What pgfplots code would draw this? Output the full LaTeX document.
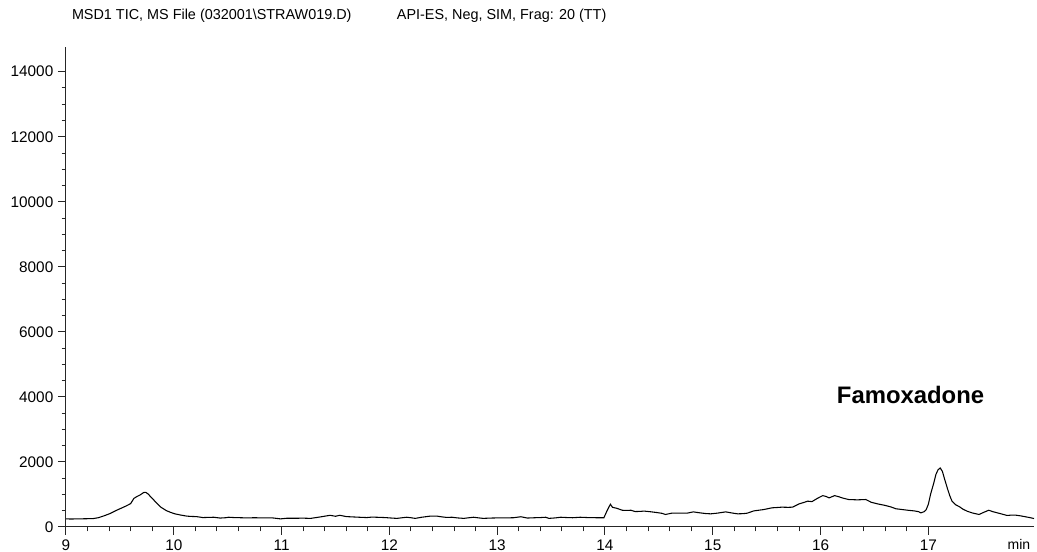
\documentclass[border=0pt]{standalone}
\usepackage{pgfplots}
\pgfplotsset{compat=1.18}
\usepackage{fontspec}
\setmainfont{Liberation Sans}

\begin{document}
\begin{tikzpicture}
% page frame; the axis box has its lower left corner at the origin
\path[use as bounding box] (-49.5pt,-18.75pt) rectangle (728.25pt,395.25pt);

\begin{axis}[
  at={(0pt,0pt)}, anchor=south west,
  scale only axis, width=726pt, height=360pt,
  xmin=9, xmax=17.98, ymin=0, ymax=14760,
  axis x line=bottom, axis y line=left,
  axis line style={-, line width=0.75pt, black!85},
  tick align=outside,
  xtick={9,...,17}, ytick={0,2000,...,14000},
  minor x tick num=4, minor y tick num=3,
  major tick length=6pt, minor tick length=3.2pt,
  tick style={line width=0.75pt, black!85},
  ticklabel style={font=\fontsize{11.5}{13}\selectfont},
  /pgf/number format/assume math mode=true,
  /pgf/number format/1000 sep={},
  scaled y ticks=false,
]
\addplot[black, line width=0.8pt, mark=none] coordinates {
(9.00,250) (9.05,245) (9.10,250) (9.15,252) (9.20,255) (9.25,258) (9.30,285)
(9.35,340) (9.41,415) (9.46,500) (9.52,590) (9.56,650) (9.60,720) (9.63,880)
(9.66,940) (9.69,990) (9.72,1060) (9.74,1065) (9.76,1020) (9.80,880) (9.84,740)
(9.88,610) (9.93,505) (9.97,450) (10.01,405) (10.06,370) (10.12,335) (10.16,325)
(10.21,320) (10.27,290) (10.32,295) (10.37,300) (10.43,275) (10.48,285) (10.51,300)
(10.56,290) (10.62,285) (10.68,280) (10.75,285) (10.82,280) (10.88,282) (10.92,278)
(10.99,250) (11.05,270) (11.12,268) (11.20,272) (11.27,265) (11.32,290) (11.36,310)
(11.45,360) (11.50,330) (11.54,360) (11.60,320) (11.66,310) (11.72,300) (11.79,290)
(11.84,305) (11.88,300) (11.96,290) (12.02,275) (12.07,265) (12.12,285) (12.16,300)
(12.20,285) (12.24,265) (12.30,300) (12.38,335) (12.44,335) (12.49,310) (12.53,295)
(12.58,300) (12.63,280) (12.69,265) (12.74,285) (12.78,300) (12.83,280) (12.87,265)
(12.94,275) (13.01,280) (13.08,280) (13.15,285) (13.22,315) (13.28,275) (13.35,285)
(13.40,290) (13.45,300) (13.48,265) (13.54,280) (13.59,300) (13.65,290) (13.70,285)
(13.77,300) (13.84,290) (13.92,285) (13.99,285) (14.02,505) (14.05,700) (14.07,605)
(14.11,575) (14.16,515) (14.20,510) (14.24,515) (14.28,475) (14.33,480) (14.36,490)
(14.42,470) (14.48,445) (14.53,420) (14.56,385) (14.62,425) (14.69,425) (14.76,425)
(14.82,465) (14.87,440) (14.93,415) (14.98,405) (15.04,425) (15.12,465) (15.18,430)
(15.23,405) (15.28,410) (15.32,425) (15.38,495) (15.47,535) (15.55,590) (15.60,600)
(15.64,610) (15.70,605) (15.74,610) (15.80,710) (15.85,760) (15.88,795) (15.92,780)
(15.97,880) (16.02,965) (16.05,940) (16.08,895) (16.13,965) (16.17,930) (16.20,895)
(16.26,845) (16.30,840) (16.34,835) (16.38,840) (16.42,845) (16.47,760) (16.53,710)
(16.59,670) (16.65,620) (16.70,560) (16.75,540) (16.81,515) (16.87,495) (16.91,470)
(16.93,435) (16.96,470) (16.98,535) (17.00,700) (17.02,1000) (17.05,1350) (17.07,1615)
(17.09,1760) (17.11,1815) (17.13,1710) (17.15,1480) (17.18,1150) (17.20,950) (17.22,790)
(17.25,690) (17.29,620) (17.32,550) (17.36,485) (17.41,430) (17.47,385) (17.52,460)
(17.56,515) (17.60,470) (17.64,435) (17.68,400) (17.73,355) (17.77,365) (17.81,365)
(17.86,340) (17.90,315) (17.94,290) (17.98,260)
};
\end{axis}

% header line
\node[anchor=base west, inner sep=0pt, font=\fontsize{10.8}{12}\selectfont]
  at (4.3pt,380.25pt) {MSD1 TIC, MS File (032001\textbackslash STRAW019.D)};
\node[anchor=base west, inner sep=0pt, font=\fontsize{10.8}{12}\selectfont]
  at (248pt,380.25pt) {API-ES, Neg, SIM, Frag: 20 (TT)};
% peak name
\node[anchor=base west, inner sep=0pt, font=\bfseries\fontsize{17.9}{20}\selectfont]
  at (578pt,92.8pt) {Famoxadone};
% time unit
\node[anchor=base west, inner sep=0pt, font=\fontsize{10.5}{12}\selectfont]
  at (706pt,-17.25pt) {min};
\end{tikzpicture}
\end{document}
